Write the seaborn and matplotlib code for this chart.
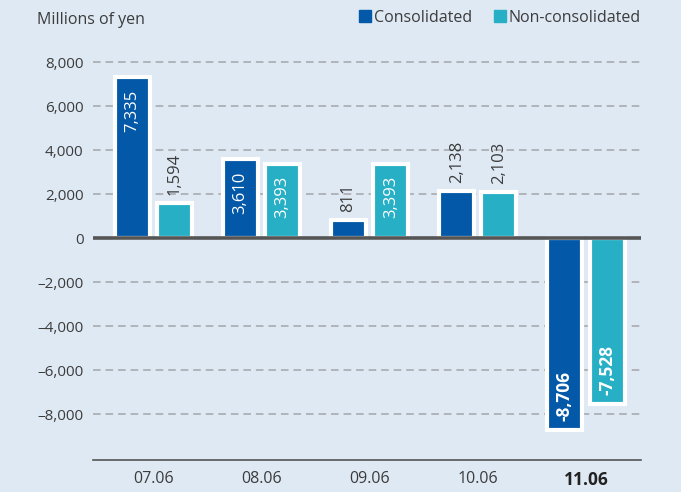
import numpy as np
import pandas as pd
import matplotlib
matplotlib.use("Agg")
import matplotlib.pyplot as plt
from matplotlib.lines import Line2D
import seaborn as sns

# Data
years = ['07.06', '08.06', '09.06', '10.06', '11.06']
consolidated = [7335, 3610, 811, 2138, -8706]
non_consolidated = [1594, 3393, 3393, 2103, -7528]
series_names = ['Consolidated', 'Non-consolidated']
y_ticks = [-8000, -6000, -4000, -2000, 0, 2000, 4000, 6000, 8000]

df = pd.DataFrame({
    'year': years * 2,
    'value': consolidated + non_consolidated,
    'type': [series_names[0]] * len(years) + [series_names[1]] * len(years),
})

BG = '#dfe9f4'
DARK_BLUE = '#0358a8'
TEAL = '#27afc5'
TEXT = '#3c3c3c'

sns.set_style('white')
plt.rcParams['font.family'] = ['Open Sans', 'DejaVu Sans']

fig = plt.figure(figsize=(6.81, 4.92), dpi=100, facecolor=BG)
ax = fig.add_axes([0.137, 0.065, 0.804, 0.843])
ax.set_facecolor(BG)

sns.barplot(data=df, x='year', y='value', hue='type', ax=ax,
            palette=[DARK_BLUE, TEAL], saturation=1, width=0.78, gap=0.17,
            edgecolor='white', linewidth=3, legend=False, zorder=3)

ax.set_ylim(-10090, 8770)
ax.set_xlim(-0.554, 4.506)
ax.set_yticks(y_ticks)
ax.set_yticklabels([('0' if v == 0 else f'{v:,}'.replace('-', '\u2013')) for v in y_ticks])
ax.tick_params(axis='y', length=0, pad=7, labelsize=11, labelcolor=TEXT)
ax.tick_params(axis='x', length=0, pad=8, labelsize=11.5, labelcolor=TEXT)
ax.set_xlabel('')
ax.set_ylabel('')

# dashed gridlines (skip zero, the solid baseline covers it)
for v in y_ticks:
    if v != 0:
        ax.axhline(v, color='#a3a6aa', lw=1.1, ls=(0, (5, 3.2)), zorder=1)
ax.axhline(0, color='#555555', lw=2.6, zorder=5)

for s in ['left', 'right', 'top']:
    ax.spines[s].set_visible(False)
ax.spines['bottom'].set_color('#555555')
ax.spines['bottom'].set_linewidth(1.2)

xt = ax.get_xticklabels()
xt[-1].set_fontweight('bold')
xt[-1].set_color('#222222')
xt[-1].set_fontsize(12.5)

# value labels
for cont in ax.containers:
    for i, bar in enumerate(cont):
        h = bar.get_height()
        x = bar.get_x() + bar.get_width() / 2
        txt = f'{h:,.0f}'
        if h < 0:
            ax.annotate(txt, (x, h), xytext=(0, 6), textcoords='offset points',
                        rotation=90, ha='center', va='bottom', color='white',
                        fontsize=12.5, fontweight='bold', zorder=6)
        elif h > 3000:
            ax.annotate(txt, (x, h), xytext=(0, -9), textcoords='offset points',
                        rotation=90, ha='center', va='top', color='white',
                        fontsize=12, zorder=6)
        else:
            ax.annotate(txt, (x, h), xytext=(0, 6), textcoords='offset points',
                        rotation=90, ha='center', va='bottom', color=TEXT,
                        fontsize=12, zorder=6)

fig.text(37 / 681, 1 - 20 / 492, 'Millions of yen', fontsize=11.5,
         color=TEXT, va='center', ha='left')

handles = [Line2D([], [], marker='s', ls='', markersize=8, color=c)
           for c in [DARK_BLUE, TEAL]]
fig.legend(handles, series_names, loc='center right',
           bbox_to_anchor=(641 / 681, 1 - 18 / 492), ncol=2, frameon=False,
           fontsize=11.5, handletextpad=0.1, columnspacing=1.3,
           handlelength=0.9, labelcolor=TEXT, borderpad=0, borderaxespad=0)

fig.savefig('out.png', dpi=100, facecolor=BG)
